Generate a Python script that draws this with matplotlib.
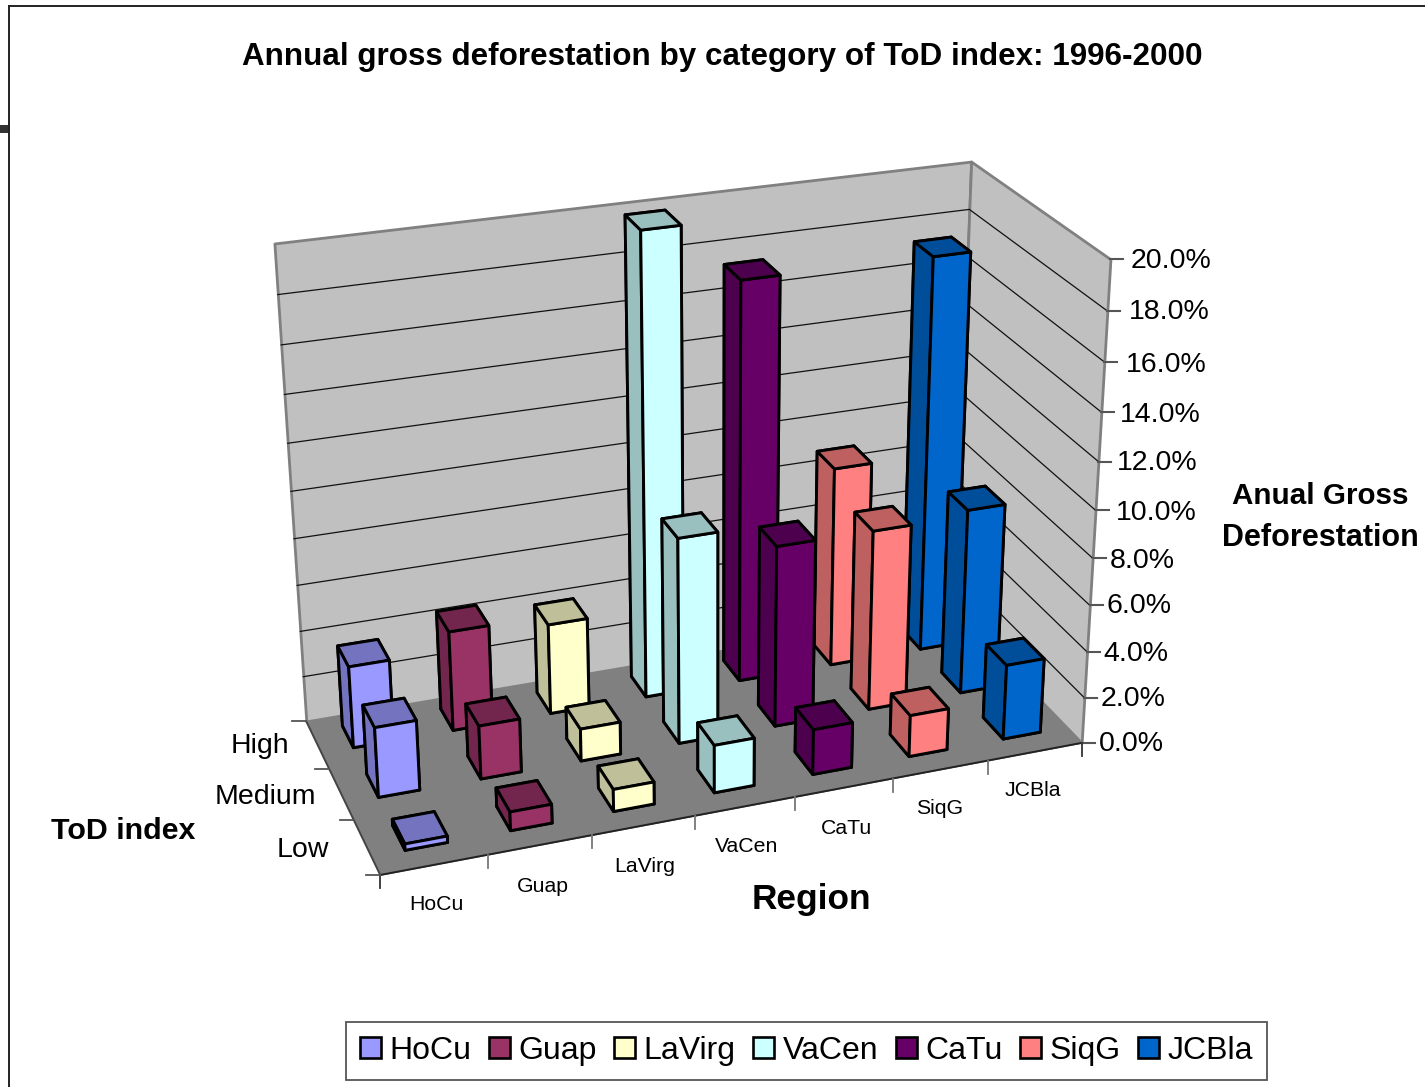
import numpy as np
import matplotlib
matplotlib.use('Agg')
import matplotlib.pyplot as plt
from matplotlib.lines import Line2D
from matplotlib.patches import Patch, Rectangle
from mpl_toolkits.mplot3d.art3d import Poly3DCollection

W, H = 1425, 1087

regions = ['HoCu', 'Guap', 'LaVirg', 'VaCen', 'CaTu', 'SiqG', 'JCBla']
tod_levels = ['Low', 'Medium', 'High']
z_ticks = [0, 2, 4, 6, 8, 10, 12, 14, 16, 18, 20]
colors = ['#9999FF', '#993366', '#FFFFCC', '#CCFFFF', '#660066', '#FF8080', '#0066CC']

# annual gross deforestation, percent, per region
low_vals = [0.27, 0.8, 0.95, 2.05, 1.95, 1.8, 3.25]
medium_vals = [3.0, 2.3, 1.4, 8.85, 7.85, 7.85, 8.1]
high_vals = [3.55, 4.35, 3.95, 19.8, 17.3, 8.8, 17.25]

# where known chart corners land in the picture, used to fit the camera
anchors_3d = [(0, 0, 0), (7, 0, 0), (0, 3, 0), (7, 3, 0), (0, 3, 20), (7, 3, 20), (7, 0, 20),
              (1, 0, 0), (2, 0, 0), (5, 0, 0), (6, 0, 0), (7, 0, 2), (7, 0, 4), (7, 0, 18),
              (0, 1, 0), (0, 2, 0)]
anchors_px = [(380, 875), (1080, 742), (305, 720), (958, 612), (275, 244), (968, 162), (1112, 258),
              (489, 857), (593, 835), (892, 778), (987, 761), (1083, 697), (1087, 653), (1109, 311),
              (354, 820), (329, 769)]


def fit_camera(pts3, pts2):
    rows = []
    for (x, y, z), (u, v) in zip(pts3, pts2):
        rows.append([x, y, z, 1, 0, 0, 0, 0, -u * x, -u * y, -u * z, -u])
        rows.append([0, 0, 0, 0, x, y, z, 1, -v * x, -v * y, -v * z, -v])
    s = np.linalg.svd(np.array(rows, dtype=float))[2]
    cam = s[-1].reshape(3, 4)
    if cam[2] @ [3.5, 1.5, 10, 1] < 0:
        cam = -cam
    return cam


camera = fit_camera(anchors_3d, anchors_px)


def project(x, y, z):
    p = camera @ [x, y, z, 1]
    return p[0] / p[2], p[1] / p[2]


def px_line(x0, y0, x1, y1, color='#333333', lw=1.3):
    fig.add_artist(Line2D([x0 / W, x1 / W], [1 - y0 / H, 1 - y1 / H], color=color, lw=lw))


def px_text(x, y, s, size, bold=False, ha='center'):
    fig.text(x / W, 1 - y / H, s, fontsize=size, ha=ha, va='center',
             fontweight='bold' if bold else 'normal', color='black')


plt.rcParams['font.family'] = ['Liberation Sans', 'DejaVu Sans']
fig = plt.figure(figsize=(W / 100, H / 100), dpi=100, facecolor='white')
ax = fig.add_axes([0, 0, 1, 1], projection='3d', computed_zorder=False)
ax.set_axis_off()
ax.apply_aspect = lambda position=None: None


def picture_proj():
    # picture pixels -> the 2D view limits of the axes
    x0, x1 = ax.viewLim.intervalx
    y0, y1 = ax.viewLim.intervaly
    to_view = np.array([[(x1 - x0) / W, 0, x0],
                        [0, -(y1 - y0) / H, y1],
                        [0, 0, 1]])
    p = to_view @ camera
    return np.array([p[0], p[1], [0, 0, 0, -1], p[2]])


ax.get_proj = picture_proj

# walls and floor
wall_kw = dict(facecolor='#C0C0C0', edgecolor='#808080', linewidth=2.0, zorder=0)
ax.add_collection3d(Poly3DCollection([[(0, 3, 0), (7, 3, 0), (7, 3, 20), (0, 3, 20)]], **wall_kw))
ax.add_collection3d(Poly3DCollection([[(7, 3, 0), (7, 0, 0), (7, 0, 20), (7, 3, 20)]], **wall_kw))
for z in z_ticks[1:-1]:
    ax.plot([0, 7, 7], [3, 3, 0], [z, z, z], color='#111111', lw=0.9, zorder=1)
ax.add_collection3d(Poly3DCollection([[(0, 0, 0), (7, 0, 0), (7, 3, 0), (0, 3, 0)]],
                                     facecolor='#808080', edgecolor='#808080', linewidth=0.5, zorder=2))
ax.plot([0, 7], [0, 0], [0, 0], color='#222222', lw=1.4, zorder=3)
ax.plot([0, 0], [0, 3], [0, 0], color='#444444', lw=1.4, zorder=3)

# bars, back row first, right to left inside a row
bar_w = 0.4
bar_d = 0.46
bar_x = 0.315
bar_y = 0.33
rows = [low_vals, medium_vals, high_vals]
order = 10
for j in [2, 1, 0]:
    for i in range(6, -1, -1):
        c = np.array(matplotlib.colors.to_rgb(colors[i]))
        dark = c * 0.75
        ax.bar3d(i + bar_x, j + bar_y, 0, bar_w, bar_d, rows[j][i],
                 color=[dark, dark, c, c, dark, dark], edgecolor='black', linewidth=2.1,
                 shade=False, zorder=order)
        order += 1

# tick marks
for z in z_ticks:
    u, v = project(7, 0, z)
    px_line(u, v, u + 13, v, color='#555555', lw=1.5)
for i in range(8):
    u, v = project(i, 0, 0)
    px_line(u, v, u, v + 13, color='#333333' if i in (0, 7) else '#777777')
for j in range(4):
    u, v = project(0, j, 0)
    px_line(u, v, u - 14, v, color='#555555')

# tick labels
z_label_px = [(1131, 744), (1133, 699), (1136, 654), (1139, 606), (1142, 561), (1156, 513),
              (1157, 463), (1160, 415), (1166, 365), (1169, 312), (1171, 261)]
for z, (u, v) in zip(z_ticks, z_label_px):
    px_text(u, v, '%.1f%%' % z, 20.5)
x_label_px = [(436, 905), (543, 886), (645, 866), (747, 847), (846, 828), (940, 809), (1033, 791)]
for name, (u, v) in zip(regions, x_label_px):
    px_text(u, v, name, 15.3)
y_label_px = [(303, 850), (265, 797), (260, 746)]
for name, (u, v) in zip(tod_levels, y_label_px):
    px_text(u, v, name, 20.5)

# titles
px_text(722, 57, 'Annual gross deforestation by category of ToD index: 1996-2000', 22.6, bold=True)
px_text(811, 899, 'Region', 25.4, bold=True)
px_text(123, 831, 'ToD index', 21.9, bold=True)
px_text(1320, 496, 'Anual Gross', 21.3, bold=True)
px_text(1320, 538, 'Deforestation', 22, bold=True)

# legend
handles = [Patch(facecolor=c, edgecolor='black', linewidth=1.9) for c in colors]
leg = fig.legend(handles, regions, loc='lower left', ncol=7, fontsize=23,
                 bbox_to_anchor=(346 / W, 1 - 1080 / H), borderaxespad=0,
                 fancybox=False, framealpha=1, edgecolor='#555555', handlelength=0.65,
                 handleheight=0.65, handletextpad=0.27, columnspacing=0.55,
                 borderpad=0.44)
leg.get_frame().set_linewidth(1.3)

# frame of the pasted picture
px_line(9, 6, W, 6, color='#222222', lw=1.4)
px_line(9, 6, 9, H, color='#222222', lw=1.4)
fig.add_artist(Rectangle((0, 1 - 133 / H), 9 / W, 8 / H, transform=fig.transFigure,
                         facecolor='#333333', edgecolor='none'))

fig.savefig('out.png', dpi=100)
